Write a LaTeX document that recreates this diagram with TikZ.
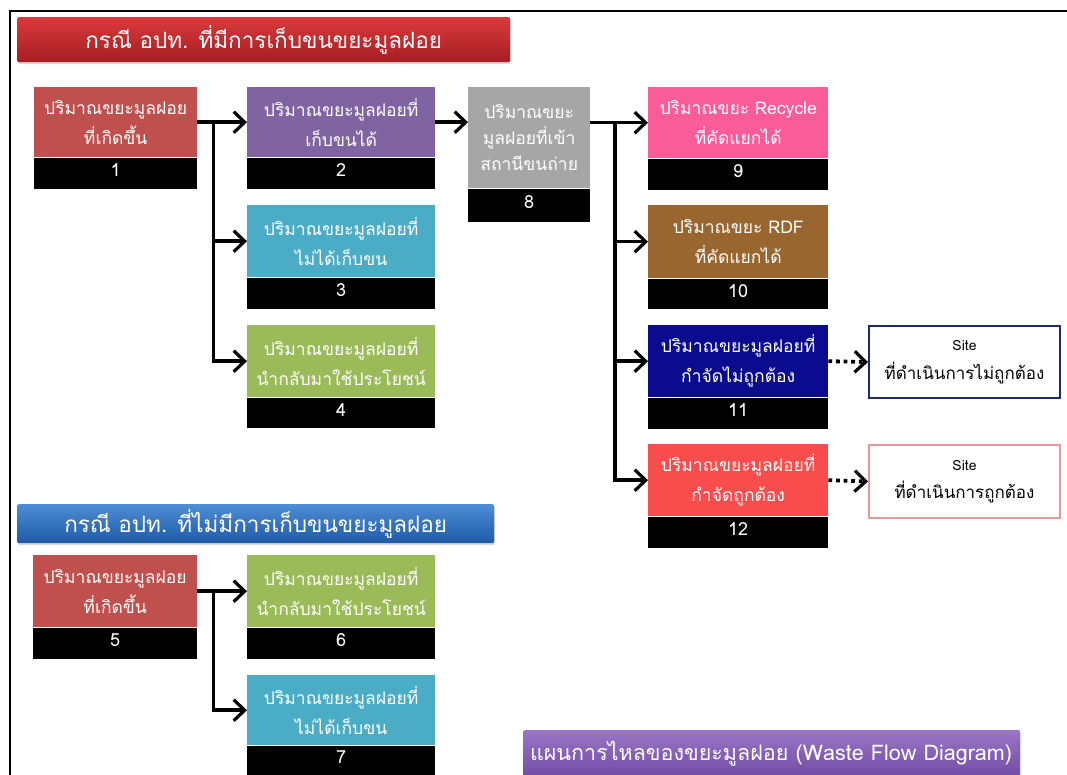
\documentclass[tikz,border=0pt]{standalone}
\usepackage{fontspec}
\newfontfamily\thaifont[Script=Thai]{Loma}
\usetikzlibrary{arrows.meta,shadows,calc}
\definecolor{cRed}{HTML}{C0504D}
\definecolor{cPurple}{HTML}{8064A2}
\definecolor{cCyan}{HTML}{4BACC6}
\definecolor{cGreen}{HTML}{9BBB59}
\definecolor{cGray}{HTML}{A6A6A6}
\definecolor{cPink}{HTML}{FA5C98}
\definecolor{cBrown}{HTML}{9A6630}
\definecolor{cNavy}{HTML}{0B0B8E}
\definecolor{cRedB}{HTML}{F94C4C}
\definecolor{sNavy}{HTML}{1F2A6E}
\definecolor{sPink}{HTML}{E3989A}
\definecolor{tRedT}{HTML}{D93A3C}
\definecolor{tRedB}{HTML}{A51E22}
\definecolor{tBlueT}{HTML}{4D8ED6}
\definecolor{tBlueB}{HTML}{1F5AA6}
\definecolor{tPurT}{HTML}{9A76C6}
\definecolor{tPurB}{HTML}{6A459E}
\newcommand\mkbox[9]{%
  \node[box, fill=#7, minimum width=#4pt, minimum height=#5pt] (#1) at (#2,#3) {#8};
  \node[nbar, minimum width=#4pt, minimum height=#6pt] (#1n) at (#1.south west) {#9};}
\begin{document}
\begin{tikzpicture}[x=1pt,y=-1pt,font=\thaifont,
  box/.style={anchor=north west, inner sep=0pt, text=white, align=center,
    font=\thaifont\fontsize{17.5}{30}\selectfont},
  nbar/.style={anchor=north west, fill=black, inner sep=0pt, text=white,
    text height=0.7em, text depth=0pt,
    font=\thaifont\fontsize{18}{20}\selectfont},
  arr/.style={line width=3.5pt, -{Straight Barb[length=11pt,width=21pt,line width=3.2pt]}},
  darr/.style={line width=3.8pt, dash pattern=on 3.8pt off 3.8pt, -{Straight Barb[length=11pt,width=21pt,line width=3.2pt]}},
  site/.style={anchor=north west, draw, line width=2pt, fill=white, inner sep=0pt, align=center, text=black},
  banner/.style={anchor=north west, inner sep=0pt, rounded corners=1.5pt,
    drop shadow={opacity=0.3, shadow xshift=1pt, shadow yshift=-2pt}},
  btext/.style={text=white, font=\thaifont\fontsize{22.5}{24}\selectfont}]
\useasboundingbox (0,0) rectangle (1067,774);
\fill[white] (0,0) rectangle (1067,774);
\draw[line width=1.8pt] (10,780) -- (10,11) -- (1070,11);
% titles
\node[banner, top color=tRedT, bottom color=tRedB, minimum width=493pt, minimum height=45pt] (t1) at (17,17) {};
\node[btext] (t1t) at (t1.center) {กรณี อปท. ที่มีการเก็บขนขยะมูลฝอย};
\node[banner, top color=tBlueT, bottom color=tBlueB, minimum width=477pt, minimum height=39pt] (t2) at (17,504) {};
\node[btext] (t2t) at (t2.center) {กรณี อปท. ที่ไม่มีการเก็บขนขยะมูลฝอย};
\node[banner, top color=tPurT, bottom color=tPurB, minimum width=497pt, minimum height=55pt] (t3) at (523,730) {};
\node[btext, font=\thaifont\fontsize{21.5}{23}\selectfont, anchor=center] (t3t) at (771,754) {แผนการไหลของขยะมูลฝอย (Waste Flow Diagram)};
% boxes
\mkbox{b1}{34}{87}{163}{70}{31}{cRed}{ปริมาณขยะมูลฝอย\\ที่เกิดขึ้น}{1}
\mkbox{b2}{247}{87}{188}{70}{31}{cPurple}{ปริมาณขยะมูลฝอยที่\\เก็บขนได้}{2}
\mkbox{b3}{247}{205}{188}{72}{31}{cCyan}{ปริมาณขยะมูลฝอยที่\\ไม่ได้เก็บขน}{3}
\mkbox{b4}{247}{325}{188}{72}{30}{cGreen}{ปริมาณขยะมูลฝอยที่\\นำกลับมาใช้ประโยชน์}{4}
\mkbox{b8}{468}{87}{122}{101}{33}{cGray}{ปริมาณขยะ\\[-4pt]มูลฝอยที่เข้า\\[-4pt]สถานีขนถ่าย}{8}
\mkbox{b9}{648}{87}{180}{71}{31}{cPink}{ปริมาณขยะ Recycle\\ที่คัดแยกได้}{9}
\mkbox{b10}{648}{205}{180}{73}{30}{cBrown}{ปริมาณขยะ RDF\\ที่คัดแยกได้}{10}
\mkbox{b11}{648}{325}{180}{72}{31}{cNavy}{ปริมาณขยะมูลฝอยที่\\กำจัดไม่ถูกต้อง}{11}
\mkbox{b12}{648}{444}{180}{72}{31}{cRedB}{ปริมาณขยะมูลฝอยที่\\กำจัดถูกต้อง}{12}
\mkbox{b5}{33}{555}{164}{72}{31}{cRed}{ปริมาณขยะมูลฝอย\\ที่เกิดขึ้น}{5}
\mkbox{b6}{247}{555}{188}{72}{31}{cGreen}{ปริมาณขยะมูลฝอยที่\\นำกลับมาใช้ประโยชน์}{6}
\mkbox{b7}{247}{675}{188}{70}{29}{cCyan}{ปริมาณขยะมูลฝอยที่\\ไม่ได้เก็บขน}{7}
% site boxes
\node[site, draw=sNavy, minimum width=191pt, minimum height=72pt] (s11) at (868,325)
  {{\fontsize{14}{16}\selectfont Site}\\[10pt]{\fontsize{17}{20}\selectfont ที่ดำเนินการไม่ถูกต้อง}};
\node[site, draw=sPink, minimum width=191pt, minimum height=73pt] (s12) at (868,444)
  {{\fontsize{14}{16}\selectfont Site}\\[10pt]{\fontsize{17}{20}\selectfont ที่ดำเนินการถูกต้อง}};
% connectors
\coordinate (j1) at ($(b1.east)!0.32!(b2.west)$);
\draw[arr] (b1.east) -- (b2.west);
\draw[arr] (j1) |- (b3.west);
\draw[arr] (j1) |- (b4.west);
\draw[arr] (b2.east) -- (b2.east -| b8.west);
\coordinate (j2) at ($(b8.east |- b9.west)!0.43!(b9.west)$);
\draw[arr] (b8.east |- b9.west) -- (b9.west);
\draw[arr] (j2) |- (b10.west);
\draw[arr] (j2) |- (b11.west);
\draw[arr] (j2) |- (b12.west);
\draw[darr] (b11.east) -- (s11.west);
\draw[darr] (b12.east) -- (s12.west);
\coordinate (j3) at ($(b5.east)!0.32!(b6.west)$);
\draw[arr] (b5.east) -- (b6.west);
\draw[arr] (j3) |- (b7.west);
\end{tikzpicture}
\end{document}
